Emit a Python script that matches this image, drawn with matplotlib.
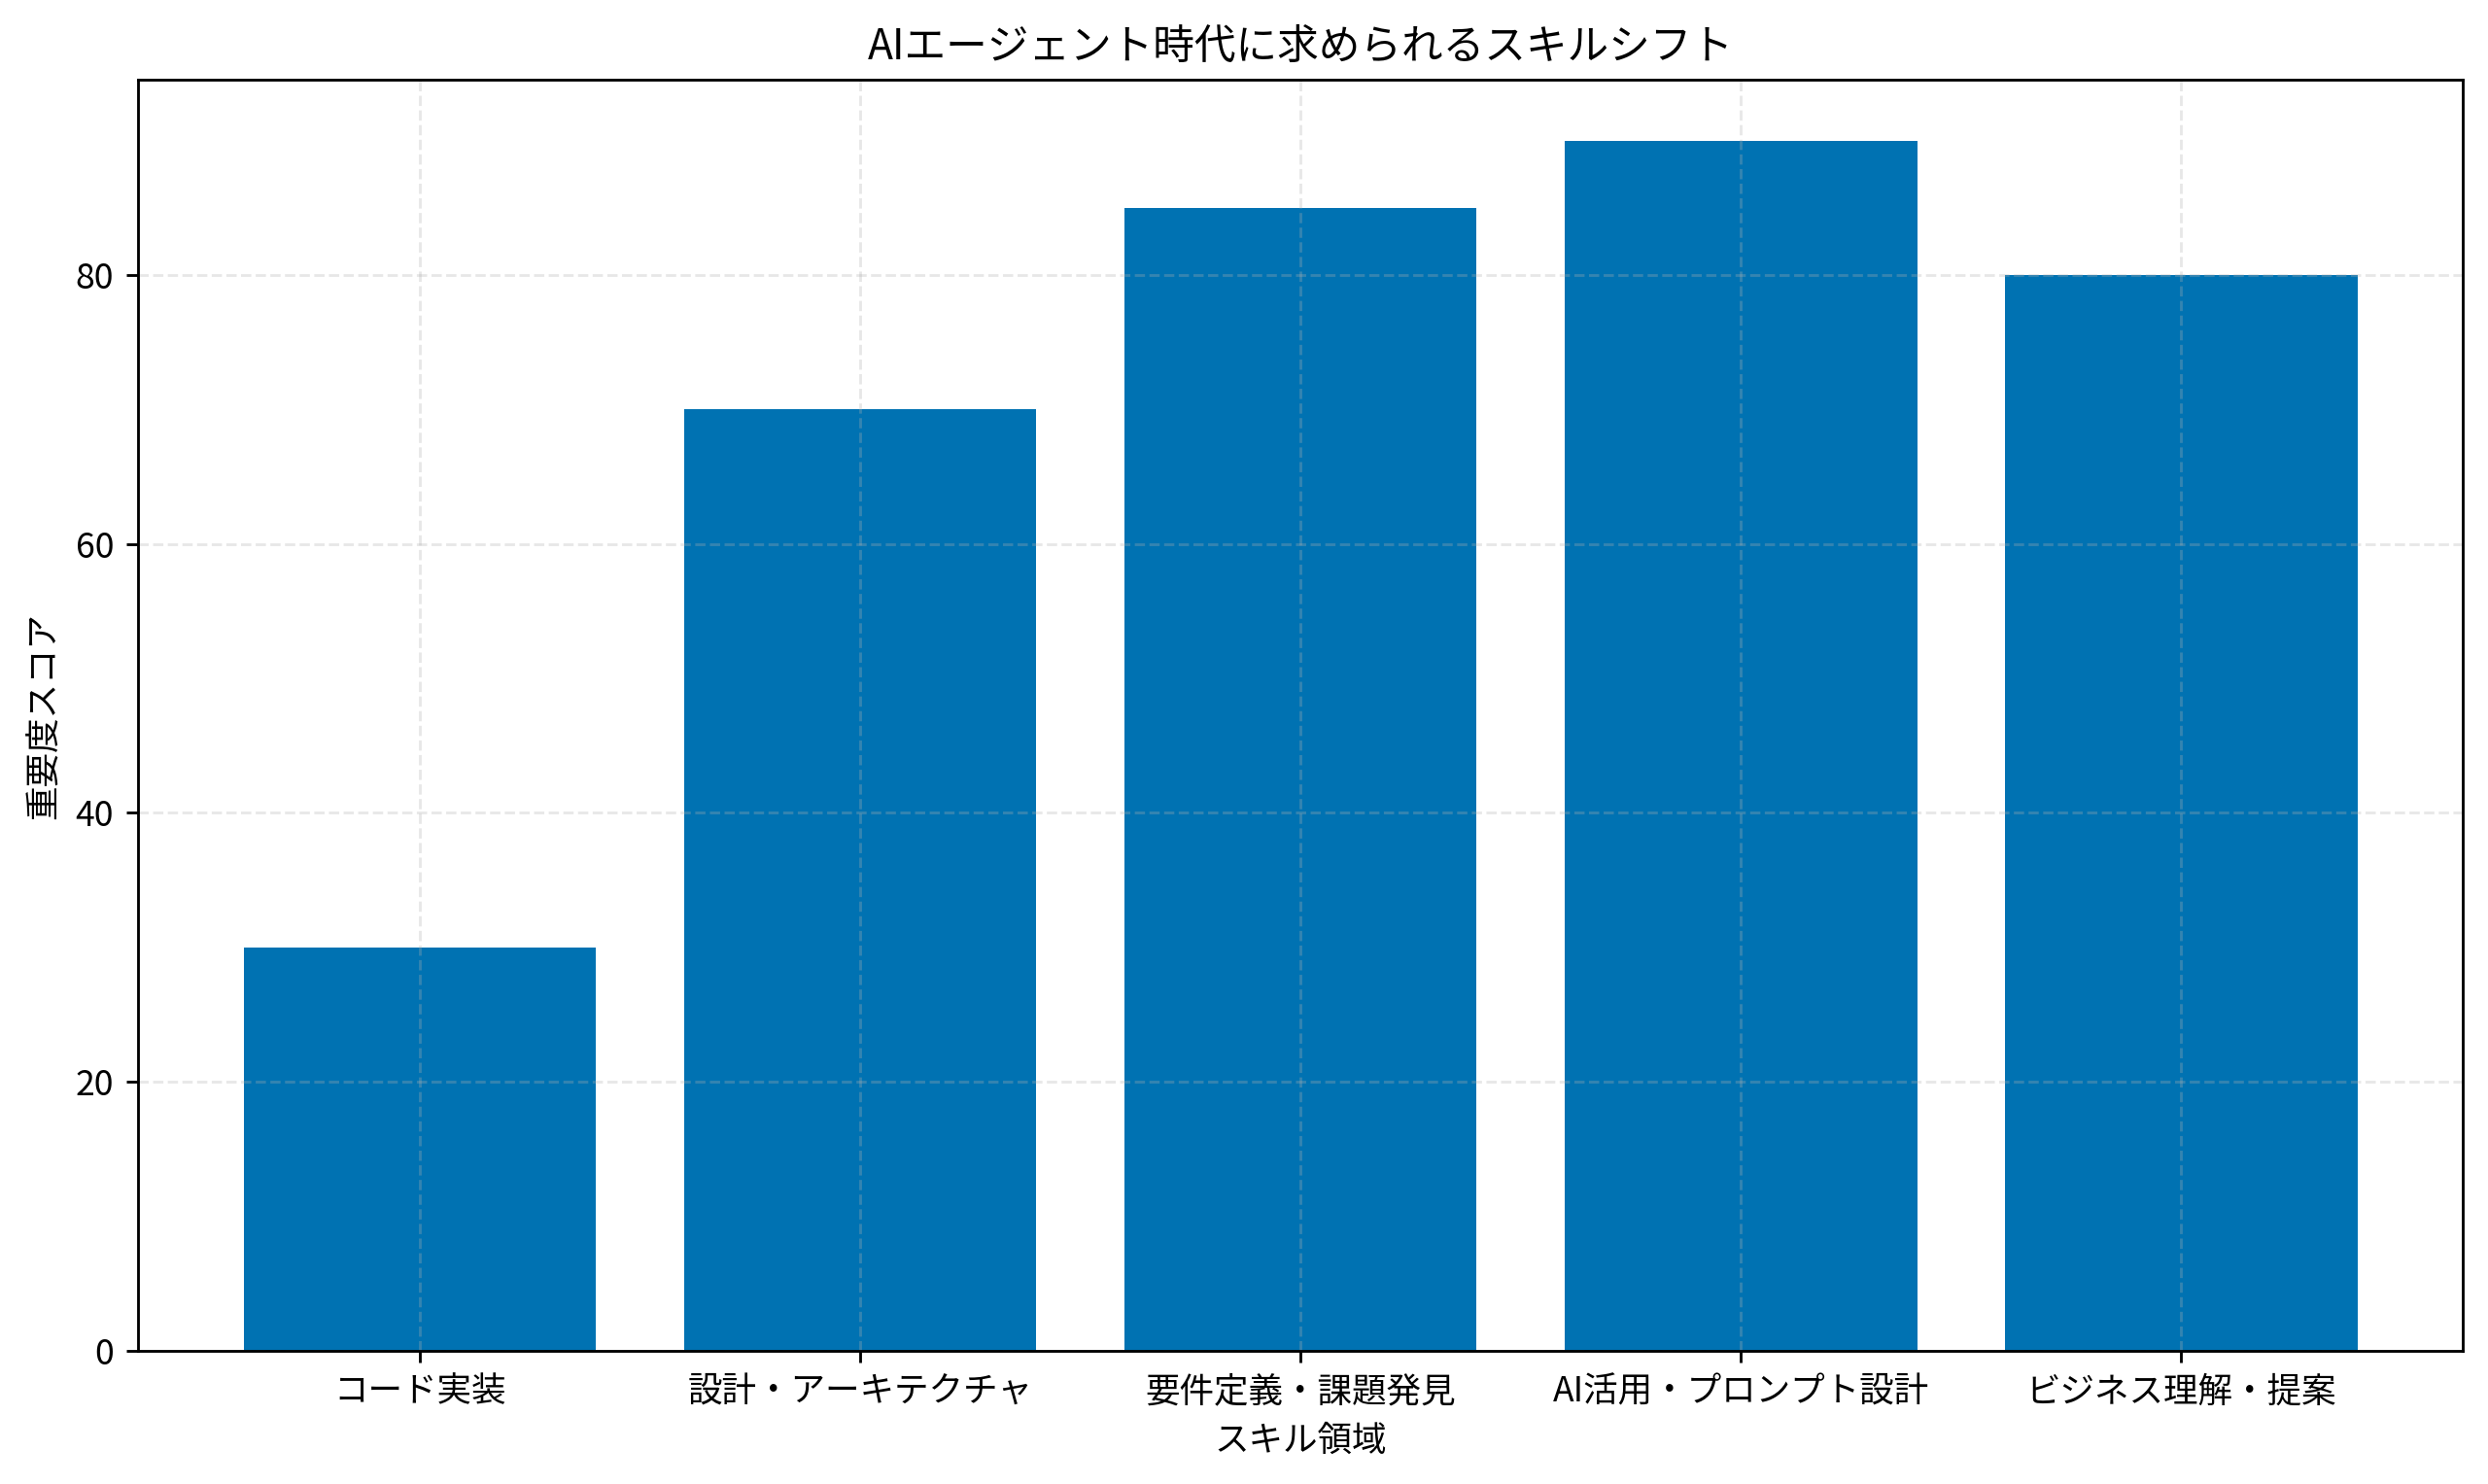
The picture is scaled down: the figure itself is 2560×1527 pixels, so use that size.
import matplotlib
matplotlib.use("Agg")
import matplotlib.pyplot as plt

plt.rcParams["font.family"] = ["Noto Sans CJK JP", "DejaVu Sans"]

# データ
skills = ["コード実装", "設計・アーキテクチャ", "要件定義・課題発見", "AI活用・プロンプト設計", "ビジネス理解・提案"]
scores = [30, 70, 85, 90, 80]

fig, ax = plt.subplots(figsize=(10, 5.965), dpi=256)
ax.bar(skills, scores, color="#0072B2", width=0.8)

ax.set_title("AIエージェント時代に求められるスキルシフト", fontsize=12)
ax.set_xlabel("スキル領域")
ax.set_ylabel("重要度スコア")
ax.grid(True, linestyle="--", alpha=0.3)

fig.subplots_adjust(left=0.0555, right=0.99, top=0.946, bottom=0.09)
fig.savefig("out.png", dpi=256)
plt.close(fig)
